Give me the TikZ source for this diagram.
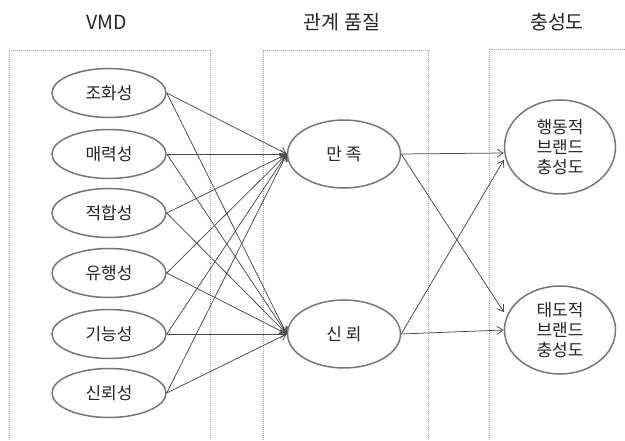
\documentclass[tikz,border=0pt]{standalone}
\usepackage{fontspec}
\setmainfont{Noto Sans CJK KR}
\usetikzlibrary{arrows.meta,shapes.geometric}
\definecolor{ringc}{HTML}{777777}
\definecolor{linec}{HTML}{4A4A4A}
\definecolor{boxc}{HTML}{A8A8A8}
\begin{document}
\begin{tikzpicture}[x=1pt,y=-1pt,
  title/.style={font=\fontsize{19.5}{22}\selectfont, text=black!85},
  var/.style={ellipse, draw=ringc, line width=1.5pt, minimum width=114pt, minimum height=49pt, inner sep=0pt, font=\fontsize{17}{22}\selectfont, text=black!85},
  midvar/.style={var, minimum width=113pt, minimum height=68pt},
  outvar/.style={var, minimum width=111pt, minimum height=90pt, align=center},
  conn/.style={draw=linec, line width=0.75pt, -{Straight Barb[length=6pt,width=8pt]}},
  panel/.style={draw=boxc, line width=0.5pt, dash pattern=on 1pt off 1pt}]
\useasboundingbox (0,0) rectangle (625,441);
\fill[white] (0,0) rectangle (625,441);
% panels
\draw[panel] (9,442) -- (9,50) -- (210,50) -- (210,442);
\draw[panel] (263,442) -- (263,50) -- (428,50) -- (428,442);
\draw[panel] (489,442) -- (489,49) -- (627,49);
% titles
\node[title] (t1) at (107,22) {VMD};
\node[title] (t2) at (342,22) {관계 품질};
\node[title] (t3) at (557,22) {충성도};
% left variables
\node[var] (a1) at (109,93) {조화성};
\node[var] (a2) at (109,154) {매력성};
\node[var] (a3) at (109,213) {적합성};
\node[var] (a4) at (109,273) {유행성};
\node[var] (a5) at (109,334) {기능성};
\node[var] (a6) at (109,393) {신뢰성};
% middle
\node[midvar] (m1) at (344,154) {만 족};
\node[midvar] (m2) at (344,334) {신 뢰};
% right
\node[outvar, minimum height=94pt] (r1) at (560,147) {행동적\\[-2pt]브랜드\\[-2pt]충성도};
\node[outvar, minimum height=88pt] (r2) at (560,330) {태도적\\[-2pt]브랜드\\[-2pt]충성도};
% connectors
\foreach \i in {1,...,6}{
  \draw[conn] (a\i.east) -- (m1.west);
  \draw[conn] (a\i.east) -- (m2.west);
}
\draw[conn] (m1.east) -- ([yshift=-6pt]r1.west);
\draw[conn] (m2.east) -- ([yshift=-13pt]r1.west);
\draw[conn] (m1.east) -- ([yshift=18pt]r2.west);
\draw[conn] (m2.east) -- (r2.west);
\end{tikzpicture}
\end{document}
